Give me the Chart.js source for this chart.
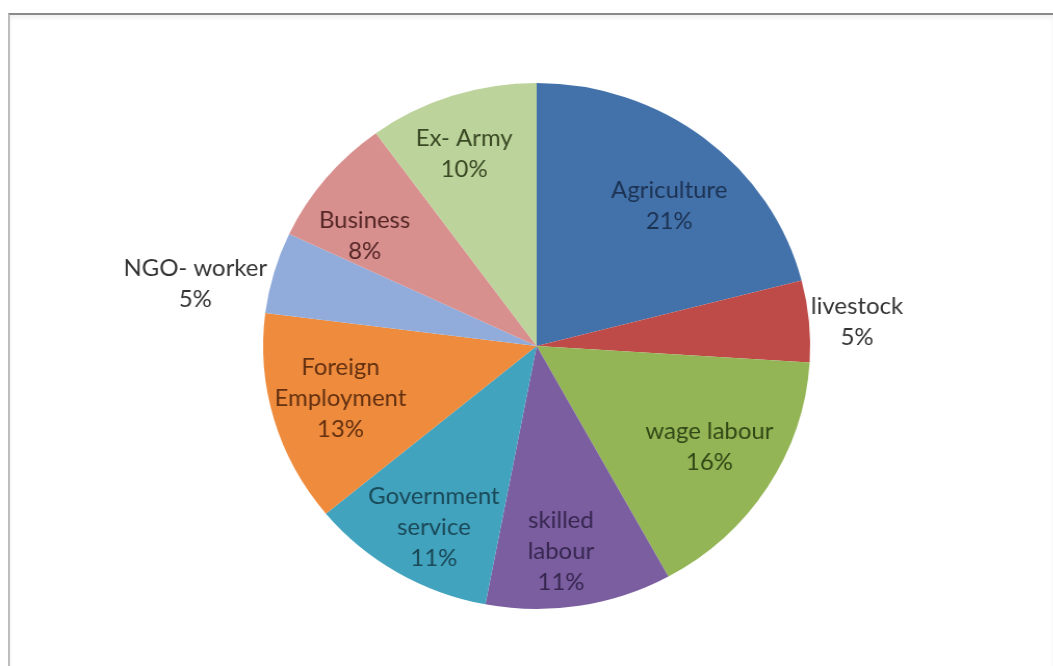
<!DOCTYPE html>
<html>
<head>
<meta charset="utf-8">
<script src="https://cdn.jsdelivr.net/npm/chart.js@4.4.1/dist/chart.umd.min.js"></script>
<style>
  html, body { margin: 0; padding: 0; background: #fff; }
  body { width: 1053px; height: 666px; overflow: hidden; position: relative; }
  .frame {
    position: absolute; left: 8px; top: 13px; width: 1043px; height: 700px;
    border-top: 2px solid #8a8a8a; border-left: 2px solid #bdbdbd; border-right: 1px solid #c8c8c8;
    box-shadow: inset 0 3px 4px rgba(0,0,0,0.06);
  }
  .stage {
    position: absolute; left: 0; top: 0; width: 1013px; height: 666px;
    transform: scaleX(1.04); transform-origin: 0 0;
  }
</style>
</head>
<body>
<div class="frame"></div>
<div class="stage"><canvas id="chart" width="1013" height="666"></canvas></div>
<script>
// Income sources of households (share of respondents)
const categories = ['Agriculture', 'livestock', 'wage labour', 'skilled labour', 'Government service',
                    'Foreign Employment', 'NGO- worker', 'Business', 'Ex- Army'];
const labelLines = [['Agriculture'], ['livestock'], ['wage labour'], ['skilled', 'labour'],
                    ['Government', 'service'], ['Foreign', 'Employment'], ['NGO- worker'], ['Business'], ['Ex- Army']];
const shares = [21, 5, 16, 11, 11, 13, 5, 8, 10];

const sliceColors = ['#4372ab', '#bf4b48', '#93b555', '#7b5ea0', '#42a3bf', '#ee8b3d', '#91abda', '#d8908f', '#bcd39b'];
const textColors  = ['#1c3252', '#333333', '#324817', '#372750', '#1a4957', '#633010', '#333333', '#552726', '#3a4924'];

// label anchor per slice: radial fraction of the outer radius and a small angular nudge (degrees)
const labelPlace = [
  { r: 0.72, da: 4.5 }, { r: 1.175, da: 1 }, { r: 0.74, da: -1 }, { r: 0.785, da: 2.5 }, { r: 0.785, da: -2 },
  { r: 0.745, da: 0.5 }, { r: 1.27, da: -5.5 }, { r: 0.755, da: -6 }, { r: 0.775, da: -2 }
];

const FONT = '23px Lato, "Open Sans", sans-serif';
const LINE_H = 31;

const sliceLabels = {
  id: 'sliceLabels',
  afterDatasetsDraw(chart) {
    const ctx = chart.ctx;
    const meta = chart.getDatasetMeta(0);
    const data = chart.data.datasets[0].data;
    const total = data.reduce((a, b) => a + b, 0);
    ctx.save();
    ctx.font = FONT;
    ctx.textAlign = 'center';
    ctx.textBaseline = 'middle';
    meta.data.forEach((arc, i) => {
      const p = arc.getProps(['x', 'y', 'startAngle', 'endAngle', 'outerRadius'], true);
      const place = labelPlace[i];
      const mid = (p.startAngle + p.endAngle) / 2 + place.da * Math.PI / 180;
      const cx = p.x + Math.cos(mid) * p.outerRadius * place.r;
      const cy = p.y + Math.sin(mid) * p.outerRadius * place.r;
      const lines = labelLines[i].concat([Math.round(data[i] / total * 100) + '%']);
      const y0 = cy - (lines.length - 1) * LINE_H / 2;
      ctx.fillStyle = textColors[i];
      lines.forEach((t, k) => ctx.fillText(t, cx, y0 + k * LINE_H));
    });
    ctx.restore();
  }
};

new Chart(document.getElementById('chart'), {
  type: 'pie',
  data: {
    labels: categories,
    datasets: [{
      data: shares,
      backgroundColor: sliceColors,
      borderWidth: 0
    }]
  },
  options: {
    responsive: false,
    animation: false,
    layout: { padding: { left: 253, right: 234, top: 83, bottom: 57 } },
    plugins: {
      legend: { display: false },
      tooltip: { enabled: false }
    }
  },
  plugins: [sliceLabels]
});
</script>
</body>
</html>
